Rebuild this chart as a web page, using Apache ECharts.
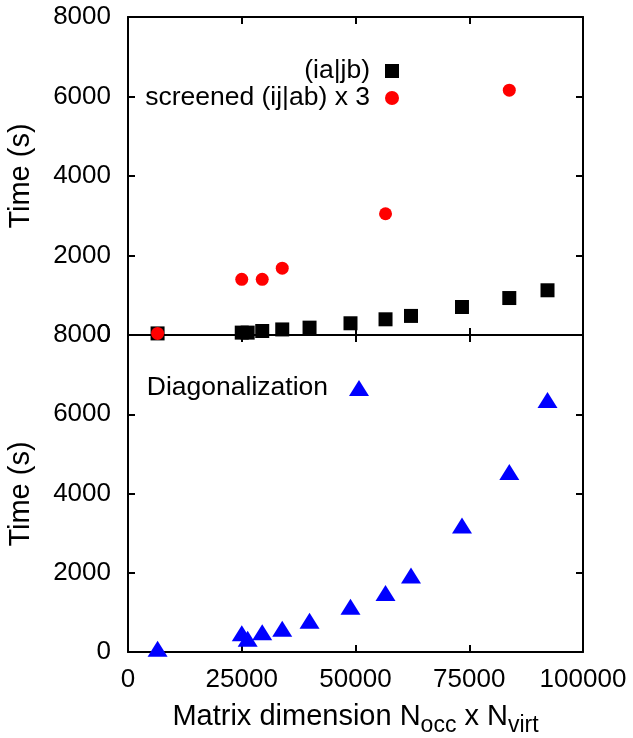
<!DOCTYPE html>
<html>
<head>
<meta charset="utf-8">
<script src="https://cdn.jsdelivr.net/npm/echarts@6/dist/echarts.min.js"></script>
<style>
  html, body { margin: 0; padding: 0; background: #fff; }
  #chart { width: 633px; height: 738px; }
</style>
</head>
<body>
<div id="chart"></div>
<script>
// matrix dimension Nocc x Nvirt of each test system
const dims = [6500, 25000, 26300, 29500, 33900, 39900, 48900, 56600, 62200, 73400, 83800, 92200];
// time (s) for the (ia|jb) integrals
const iajbTime = [40, 60, 60, 100, 140, 185, 295, 395, 480, 705, 930, 1125];
// screened (ij|ab) time x 3, only measured for some systems
const ijabDims = [6500, 25000, 29500, 33900, 56600, 83800];
const ijabTime = [40, 1400, 1400, 1680, 3050, 6160];
// diagonalization time (s)
const diagTime = [85, 475, 335, 500, 585, 790, 1140, 1490, 1930, 3190, 4540, 6360];

const xTicks = [0, 25000, 50000, 75000, 100000];
const yTicks = [0, 2000, 4000, 6000, 8000];

const FONT = 'Liberation Sans, Arial, Helvetica, sans-serif';
const chart = echarts.init(document.getElementById('chart'), null, { renderer: 'canvas' });

const zip = (xs, ys) => xs.map((x, i) => [x, ys[i]]);

const lineStyle = { color: '#000', width: 2 };
function xAxis(gridIndex, position, labels) {
  return {
    type: 'value', gridIndex, position,
    min: xTicks[0], max: xTicks[xTicks.length - 1], interval: xTicks[1] - xTicks[0],
    axisLine: { show: true, onZero: false, lineStyle },
    axisTick: { show: true, inside: true, length: 7, lineStyle },
    axisLabel: { show: labels, color: '#000', fontSize: 26, fontFamily: FONT, margin: 15,
      formatter: v => String(v) },
    splitLine: { show: false }
  };
}
function yAxis(gridIndex, position, labels) {
  return {
    type: 'value', gridIndex, position,
    min: yTicks[0], max: yTicks[yTicks.length - 1], interval: yTicks[1] - yTicks[0],
    axisLine: { show: true, onZero: false, lineStyle },
    axisTick: { show: true, inside: true, length: 7, lineStyle },
    axisLabel: { show: labels, color: '#000', fontSize: 26, fontFamily: FONT, margin: 17,
      formatter: v => String(v) },
    splitLine: { show: false }
  };
}

const xBottom = xAxis(1, 'bottom', true);
xBottom.name = 'Matrix dimension N{sub|occ} x N{sub|virt}';
xBottom.nameLocation = 'middle';
xBottom.nameGap = 45;
xBottom.nameTextStyle = {
  color: '#000', fontSize: 29, fontFamily: FONT,
  rich: { sub: { fontSize: 23, fontFamily: FONT, color: '#000', padding: [17, 0, 0, 0] } }
};

const legendText = (pad) => ({ color: '#000', fontSize: 26.5, fontFamily: FONT, lineHeight: 28, padding: [0, pad, 0, 0] });
const yTitle = (y) => ({
  type: 'text', x: 21, y, rotation: Math.PI / 2,
  style: { text: 'Time (s)', fill: '#000', font: '29px ' + FONT, align: 'center', verticalAlign: 'middle' }
});

chart.setOption({
  animation: false,
  backgroundColor: '#fff',
  grid: [
    { left: 128, right: 50, top: 17, height: 318 },
    { left: 128, right: 50, top: 335, height: 320 }
  ],
  xAxis: [xAxis(0, 'bottom', false), xAxis(0, 'top', false), xBottom, xAxis(1, 'top', false)],
  yAxis: [yAxis(0, 'left', true), yAxis(0, 'right', false), yAxis(1, 'left', true), yAxis(1, 'right', false)],
  legend: [
    { data: ['(ia|jb)'], right: 234, top: 57, align: 'right', padding: 0,
      itemWidth: 14, itemHeight: 14, textStyle: legendText(10) },
    { data: ['screened (ij|ab) x 3'], right: 234, top: 84, align: 'right', padding: 0,
      itemWidth: 14, itemHeight: 14, textStyle: legendText(10) },
    { data: ['Diagonalization'], right: 264, top: 374, align: 'right', padding: 0,
      itemWidth: 20, itemHeight: 16, textStyle: legendText(16) }
  ],
  graphic: [yTitle(176), yTitle(494)],
  series: [
    { name: '(ia|jb)', type: 'scatter', xAxisIndex: 0, yAxisIndex: 0, clip: false,
      symbol: 'rect', symbolSize: 14, itemStyle: { color: '#000', opacity: 1 }, data: zip(dims, iajbTime) },
    { name: 'screened (ij|ab) x 3', type: 'scatter', xAxisIndex: 0, yAxisIndex: 0, clip: false,
      symbol: 'circle', symbolSize: 13, itemStyle: { color: '#ff0000', opacity: 1 }, data: zip(ijabDims, ijabTime) },
    { name: 'Diagonalization', type: 'scatter', xAxisIndex: 2, yAxisIndex: 2, clip: false,
      symbol: 'triangle', symbolSize: [20, 16], itemStyle: { color: '#0000ff', opacity: 1 }, data: zip(dims, diagTime) }
  ]
});
</script>
</body>
</html>
